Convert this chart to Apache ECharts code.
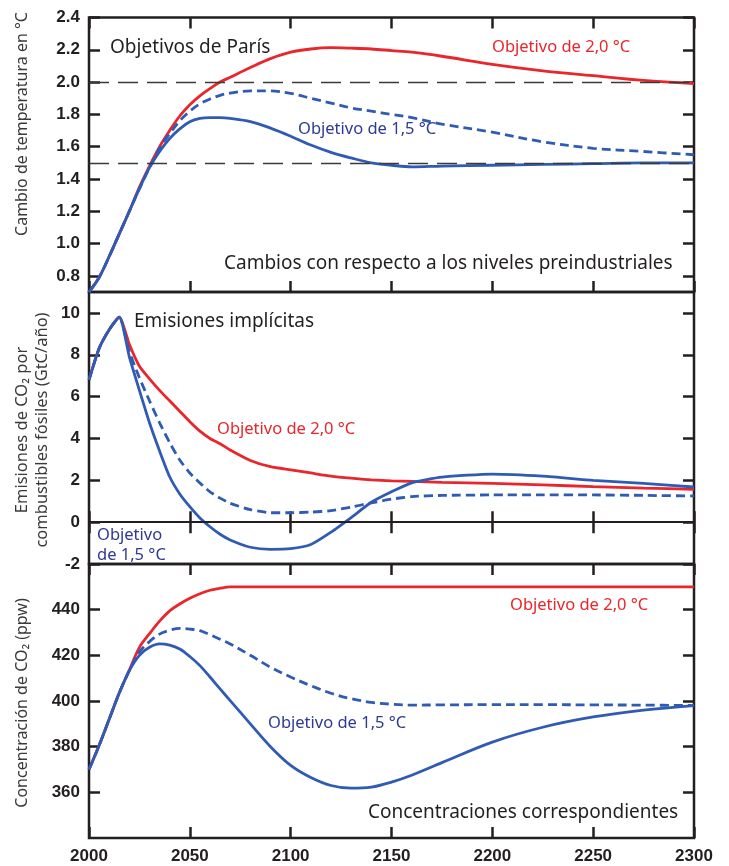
<!DOCTYPE html>
<html>
<head>
<meta charset="utf-8">
<script src="https://cdn.jsdelivr.net/npm/echarts@6/dist/echarts.min.js"></script>
<style>
html,body{margin:0;padding:0;background:#fff;}
#chart{width:729px;height:866px;}
</style>
</head>
<body>
<div id="chart"></div>
<script>
// ---- Data ----
const years = [2000,2005,2010,2015,2020,2025,2030,2035,2040,2045,2050,2055,2060,2065,2070,2080,2090,2100,2110,2120,2130,2140,2150,2160,2175,2200,2225,2250,2275,2300];

// Temperature change (°C)
const tempRed   = [0.70,0.79,0.92,1.06,1.20,1.35,1.48,1.60,1.70,1.79,1.86,1.915,1.96,2.00,2.03,2.09,2.145,2.185,2.205,2.213,2.21,2.205,2.195,2.185,2.16,2.11,2.07,2.04,2.01,1.99];
const tempDash  = [0.70,0.79,0.92,1.06,1.20,1.34,1.47,1.59,1.68,1.76,1.82,1.865,1.895,1.918,1.932,1.945,1.945,1.93,1.90,1.87,1.84,1.82,1.80,1.78,1.74,1.69,1.63,1.59,1.57,1.55];
const tempSolid = [0.70,0.79,0.92,1.06,1.20,1.34,1.47,1.57,1.65,1.71,1.755,1.775,1.78,1.78,1.775,1.755,1.715,1.665,1.61,1.565,1.53,1.50,1.485,1.475,1.48,1.485,1.49,1.495,1.50,1.50];

// Emissions (GtC/yr)
const emisRed   = [6.8,8.3,9.2,9.8,8.5,7.45,6.85,6.3,5.8,5.3,4.8,4.35,4.0,3.75,3.45,2.95,2.65,2.5,2.35,2.2,2.1,2.02,1.97,1.95,1.9,1.85,1.78,1.7,1.63,1.57];
const emisDash  = [6.8,8.3,9.2,9.8,8.15,6.9,5.8,4.75,3.8,2.97,2.35,1.87,1.45,1.15,0.9,0.6,0.45,0.45,0.48,0.55,0.72,0.92,1.1,1.22,1.28,1.3,1.3,1.3,1.28,1.25];
const emisSolid = [6.8,8.3,9.2,9.8,7.9,6.3,4.75,3.4,2.17,1.35,0.74,0.2,-0.22,-0.58,-0.85,-1.2,-1.3,-1.27,-1.07,-0.48,0.22,0.95,1.45,1.88,2.15,2.3,2.2,2.0,1.85,1.68];

// CO2 concentration (ppm)
const concRed   = [370,380.5,392,403.5,413.5,423.5,429.5,435,439.5,442.5,445,447,448.5,449.4,450,450,450,450,450,450,450,450,450,450,450,450,450,450,450,450];
const concDash  = [370,380.5,392,403.5,413.3,421.5,426,429.3,431,431.8,431.5,430.8,429,427,425,420,414.8,410.5,406.7,403.4,401,399.4,398.6,398.2,398.3,398.4,398.4,398.3,398.2,398];
const concSolid = [370,380.5,392,403.5,413.3,420,423.5,425,424.5,422.8,419.5,415.5,410.5,405.3,400.2,390,380,371.8,366.5,363,361.8,362.3,364.5,367.5,373,382,388.5,393,396,398];

const tempTicks = [0.8,1.0,1.2,1.4,1.6,1.8,2.0,2.2,2.4];
const emisTicks = [-2,0,2,4,6,8,10];
const concTicks = [360,380,400,420,440];
const tempRefLines = [2.0,1.5];

// ---- Styling ----
const RED = '#e8262b';
const BLUE = '#2f5bb5';
const BLUE_TXT = '#2e3a94';
const BLACK = '#231f20';
const pair = arr => years.map((y,i)=>[y,arr[i]]);

const grids = [
  {left:89, right:35, top:17.5, height:274.5},
  {left:89, right:35, top:292, height:272},
  {left:89, right:35, top:564, height:274}
].map(g=>Object.assign(g,{show:true,borderColor:BLACK,borderWidth:2.5,backgroundColor:'transparent',containLabel:false}));

const xAxes = [], yAxes = [];
const tickStyle = {show:true,inside:true,length:11,lineStyle:{color:BLACK,width:2.5}};
for (let i=0;i<3;i++){
  xAxes.push({type:'value',gridIndex:i,min:2000,max:2300,interval:50,position:'bottom',
    axisLine:{show:false},splitLine:{show:false},axisTick:tickStyle,
    axisLabel:{show:i===2,color:BLACK,fontFamily:'Liberation Sans',fontWeight:'bold',fontSize:17,margin:10,
      formatter:v=>String(v)}});
  xAxes.push({type:'value',gridIndex:i,min:2000,max:2300,interval:50,position:'top',
    axisLine:{show:false},splitLine:{show:false},axisTick:tickStyle,axisLabel:{show:false}});
}
const yCfg = [
  {min:0.7,max:2.4,ticks:tempTicks,fmt:v=>v.toFixed(1)},
  {min:-2,max:11,ticks:emisTicks,fmt:v=>String(v)},
  {min:340,max:460,ticks:concTicks,fmt:v=>String(v)}
];
yCfg.forEach((c,i)=>{
  yAxes.push({type:'value',gridIndex:i,min:c.min,max:c.max,position:'left',
    axisLine:{show:false},splitLine:{show:false},
    axisTick:Object.assign({},tickStyle,{customValues:c.ticks}),
    axisLabel:{show:true,customValues:c.ticks,formatter:c.fmt,color:BLACK,fontFamily:'Liberation Sans',fontWeight:'bold',fontSize:17,margin:9}});
  yAxes.push({type:'value',gridIndex:i,min:c.min,max:c.max,position:'right',
    axisLine:{show:false},splitLine:{show:false},
    axisTick:Object.assign({},tickStyle,{customValues:c.ticks}),axisLabel:{show:false}});
});

function line(data, gi, color, dashed, extra){
  return Object.assign({type:'line',xAxisIndex:gi*2,yAxisIndex:gi*2,data:pair(data),
    showSymbol:false,symbol:'none',smooth:gi===1?0.2:0.35,silent:true,
    lineStyle:{color:color,width:2.8,type:dashed?[9,5]:'solid'},z:3},extra||{});
}

const series = [
  line(tempRed,0,RED,false,{markLine:{silent:true,symbol:'none',label:{show:false},
    lineStyle:{color:'#3a3a3a',width:1.4,type:[20,9]},data:tempRefLines.map(v=>({yAxis:v}))}}),
  line(tempDash,0,BLUE,true),
  line(tempSolid,0,BLUE,false),
  line(emisRed,1,RED,false,{markLine:{silent:true,symbol:'none',label:{show:false},
    lineStyle:{color:BLACK,width:2,type:'solid'},data:[{yAxis:0}]}}),
  line(emisDash,1,BLUE,true),
  line(emisSolid,1,BLUE,false),
  line(concRed,2,RED,false),
  line(concDash,2,BLUE,true),
  line(concSolid,2,BLUE,false)
];

function txt(s,x,y,color,size,extra){
  return {type:'text',left:x,top:y,silent:true,z:10,
    style:Object.assign({text:s,fill:color,font:size+'px "Noto Sans"',verticalAlign:'middle'},extra||{})};
}
function vtxt(s,cx,cy,size,extra){
  return {type:'text',x:cx,y:cy,rotation:Math.PI/2,silent:true,z:10,
    style:Object.assign({text:s,fill:'#3a3a3a',font:size+'px "Noto Sans"',align:'center',verticalAlign:'middle'},extra||{})};
}
const graphic = [
  vtxt('Cambio de temperatura en °C',22,124,16),
  vtxt('Emisiones de CO₂ por\ncombustibles fósiles (GtC/año)',32,430,16.5,{lineHeight:20}),
  vtxt('Concentración de CO₂ (ppw)',22,703,16),
  txt('Objetivos de París',110,38,BLACK,19),
  txt('Objetivo de 2,0 °C',492,39,RED,16.5),
  txt('Objetivo de 1,5 °C',298,121,BLUE_TXT,16.5),
  txt('Cambios con respecto a los niveles preindustriales',224,254,BLACK,19),
  txt('Emisiones implícitas',134,312,BLACK,19),
  txt('Objetivo de 2,0 °C',217,421,RED,16.5),
  txt('Objetivo\nde 1,5 °C',97,525,BLUE_TXT,16.5,{lineHeight:20}),
  txt('Objetivo de 2,0 °C',510,597,RED,16.5),
  txt('Objetivo de 1,5 °C',268,715,BLUE_TXT,16.5),
  txt('Concentraciones correspondientes',368,803,BLACK,19)
];

const chart = echarts.init(document.getElementById('chart'),null,{renderer:'canvas'});
chart.setOption({animation:false,backgroundColor:'#fff',grid:grids,xAxis:xAxes,yAxis:yAxes,series:series,graphic:graphic});
</script>
</body>
</html>
